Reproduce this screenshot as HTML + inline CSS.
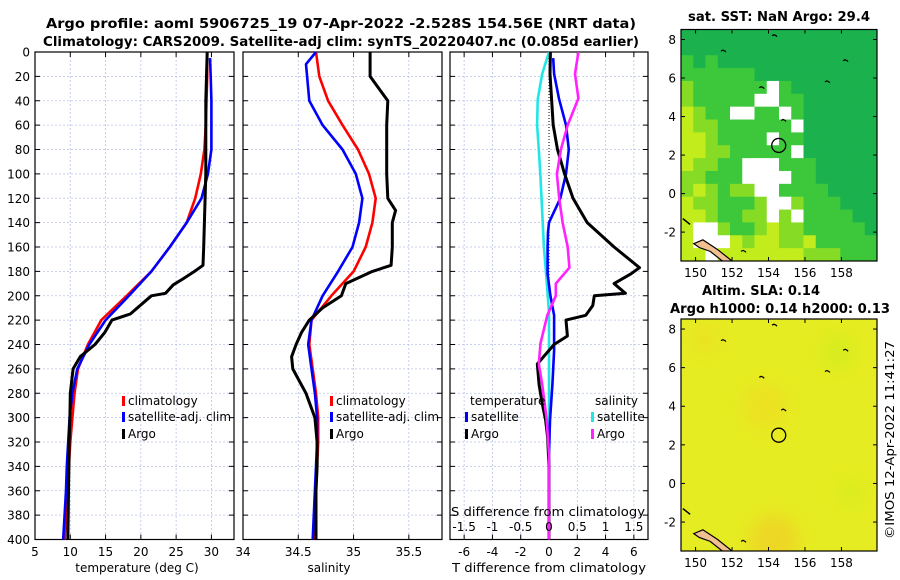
<!DOCTYPE html>
<html><head><meta charset="utf-8"><style>
html,body{margin:0;padding:0;background:#fff;}
svg{display:block;font-family:"DejaVu Sans","Liberation Sans",sans-serif;}
</style></head><body>
<svg id="fig" width="900" height="580" viewBox="0 0 900 580" xmlns="http://www.w3.org/2000/svg">
<text x="341" y="28" text-anchor="middle" font-size="13" font-weight="bold" textLength="590" lengthAdjust="spacingAndGlyphs">Argo profile: aoml 5906725_19 07-Apr-2022 -2.528S 154.56E (NRT data)</text>
<text x="341" y="46" text-anchor="middle" font-size="13" font-weight="bold" textLength="596" lengthAdjust="spacingAndGlyphs">Climatology: CARS2009. Satellite-adj clim: synTS_20220407.nc (0.085d earlier)</text>
<text x="779" y="21" text-anchor="middle" font-size="13" font-weight="bold" textLength="182" lengthAdjust="spacingAndGlyphs">sat. SST: NaN Argo: 29.4</text>
<text x="761" y="295" text-anchor="middle" font-size="13" font-weight="bold" textLength="118" lengthAdjust="spacingAndGlyphs">Altim. SLA: 0.14</text>
<text x="780" y="313" text-anchor="middle" font-size="13" font-weight="bold" textLength="220" lengthAdjust="spacingAndGlyphs">Argo h1000: 0.14 h2000: 0.13</text>
<text transform="translate(894,440) rotate(-90)" text-anchor="middle" font-size="12" textLength="198" lengthAdjust="spacingAndGlyphs">©IMOS 12-Apr-2022 11:41:27</text>
</svg>
<script>
// ---------- data ----------
const depths = [0,20,40,60,80,100,120,140,160,180,200,220,240,260,280,300,320,340,360,380,400];
const tempClim = [29.4,29.4,29.3,29.2,29.0,28.5,27.7,26.5,24.1,21.5,18.0,14.4,12.5,11.1,10.6,10.3,10.0,9.8,9.6,9.4,9.2];
const tempSat  = [29.8,29.9,30.0,30.0,30.0,29.5,28.6,26.5,24.1,21.5,18.3,15.0,12.7,11.0,10.3,9.9,9.7,9.5,9.4,9.2,9.0];
const argoTDepth = [0,20,40,60,80,100,120,140,160,175,180,186,191,198,200,205,215,220,230,240,250,260,280,300,320,340,360,380,400];
const argoTemp   = [29.4,29.3,29.2,29.2,29.2,29.2,29.1,29.0,28.9,28.8,27.6,26.0,24.6,23.5,21.5,20.5,18.5,15.9,14.9,13.5,11.4,10.4,10.0,9.95,9.85,9.8,9.75,9.7,9.65];
const salClim = [34.66,34.69,34.77,34.9,35.04,35.14,35.2,35.17,35.11,35.0,34.8,34.62,34.6,34.63,34.66,34.68,34.68,34.67,34.66,34.65,34.64];
const salSat  = [34.66,34.57,34.6,34.72,34.9,35.02,35.08,35.05,34.99,34.86,34.72,34.62,34.59,34.62,34.65,34.67,34.67,34.66,34.65,34.64,34.63];
const argoSDepth = [0,20,40,60,80,100,120,130,140,160,175,180,190,200,210,220,230,240,250,260,270,280,300,320,340,360,380,400];
const argoSal    = [35.15,35.15,35.31,35.3,35.3,35.3,35.31,35.38,35.35,35.35,35.34,35.17,34.93,34.89,34.72,34.6,34.53,34.48,34.44,34.45,34.51,34.57,34.65,34.67,34.67,34.66,34.66,34.66];
const dTArgoDepth = [0,18,60,80,100,120,140,160,177,182,190,198,200,208,216,220,233,240,256,273,287,302,316,340,400];
const dTArgo      = [0.1,0.07,0.3,0.6,1.1,1.7,2.7,4.6,6.4,5.8,4.6,5.4,3.2,3.1,2.6,1.2,1.3,0.36,-0.83,-0.7,-0.5,-0.24,-0.1,0,0];
const dTSatDepth = [5,18,38,60,80,100,120,140,148,160,182,200,216,245,273,302,330,400];
const dTSat      = [0.3,0.36,0.7,1.2,1.4,1.2,0.8,0,-0.07,-0.1,-0.1,0.1,0.36,0.36,0.24,0.07,0,0];
const dSSatDepth = [0,18,39,60,80,103,131,160,188,214,245,300,400];
const dSSat      = [0,-0.12,-0.2,-0.21,-0.18,-0.15,-0.12,-0.09,-0.04,0,0,0,0];
const dSArgoDepth = [0,18,38,60,80,100,120,140,160,177,190,200,216,239,256,273,287,302,330,400];
const dSArgo      = [0.52,0.46,0.52,0.33,0.21,0.14,0.18,0.24,0.33,0.36,0.12,0.12,-0.03,-0.15,-0.18,-0.12,-0.08,-0.04,0,0];
const depthTicks = [0,20,40,60,80,100,120,140,160,180,200,220,240,260,280,300,320,340,360,380,400];
const tempTicks = [5,10,15,20,25,30];
const salTicks = [34,34.5,35,35.5];
const dTTicks = [-6,-4,-2,0,2,4,6];
const dSTicks = [-1.5,-1,-0.5,0,0.5,1,1.5];
const lonTicks = [150,152,154,156,158];
const latTicks = [-2,0,2,4,6,8];
// SST map cells (rows north->south), codes: D dark green, G green, L lime, Y yellow-green, W missing
const sstRows = [
 "DDDDDDDDDDDDDDDD","DDDDDDDDDDDDDDDD","GDGDDDDDDDDDDDDD","GGGGGGDDDDDDDDDD",
 "LGGGGGGWGDDDDDDD","LGGGGGWWGGDDDDDD","YLGGWWGGWGDDDDDD","YLLGGGGGGWDDDDDD",
 "YYLGGGGWGGDDDDDD","YYLLGGGGGWDDDDDD","YLLGGWWWGGGDDDDD","LLGGGWWWWGGDDDDD",
 "LYLGLLWWGGGGDDDD","YLLGGGLWWLGGGDDD","YYLGGLLWLWGGGGDD","YWWLGGLYLLGGGGGD",
 "YWWWYLYYLLYGGGGG","YYWYYYYYYYLLLGGG"];
const sstColors = {D:"#1bb24e",G:"#3cc83a",L:"#86dc24",Y:"#c2ec1c",W:"#ffffff"};
// SLA patches: lon, lat, radius(deg), colour
const slaLon = [153.8,154.3,157.8,150.5,158.5];
const slaLat = [4,-3,6.8,7.5,-0.5];
const slaR   = [1.2,1.4,1.0,0.8,0.8];
const slaCol = ["#eedd22","#f0cf28","#d2ec1c","#ecdf22","#d6ec1c"];

// ---------- helpers ----------
const svg = document.getElementById('fig');
const NS = "http://www.w3.org/2000/svg";
function mk(tag, attrs, parent){const e=document.createElementNS(NS,tag);for(const k in attrs)e.setAttribute(k,attrs[k]);(parent||svg).appendChild(e);return e;}
const Y0=52, Y1=539.5;
const yD = d => Y0 + d*(Y1-Y0)/400;
const sx = (x0,x1,v0,v1) => v => x0 + (v-v0)*(x1-x0)/(v1-v0);
const P1 = {x0:35,x1:234}, P2={x0:243,x1:442}, P3={x0:450,x1:648};
const xT = sx(P1.x0,P1.x1,5,33.2);
const xS = sx(P2.x0,P2.x1,34,35.8);
const xdT = sx(P3.x0,P3.x1,-7,7);
const xdS = v => xdT(v*4);

function panel(P, name, gridXs){
  const g = mk('g',{});
  
  
  depthTicks.forEach(d=>{ if(d>0&&d<400){
    const l=mk('line',{x1:P.x0,x2:P.x1,y1:yD(d),y2:yD(d),stroke:"#b8c2e6","stroke-width":0.8,"stroke-dasharray":"2,2"},g);
    
    
  }});
  gridXs.forEach(x=>{
    const l=mk('line',{x1:x,x2:x,y1:Y0,y2:Y1,stroke:"#b8c2e6","stroke-width":0.8,"stroke-dasharray":"2,2"},g);
    
    
  });
  depthTicks.forEach(d=>{
    mk('line',{x1:P.x0,x2:P.x0+5,y1:yD(d),y2:yD(d),stroke:"#000"},g);
    mk('line',{x1:P.x1,x2:P.x1-5,y1:yD(d),y2:yD(d),stroke:"#000"},g);
  });
  gridXs.forEach(x=>{
    mk('line',{x1:x,x2:x,y1:Y1,y2:Y1-5,stroke:"#000"},g);
    mk('line',{x1:x,x2:x,y1:Y0,y2:Y0+5,stroke:"#000"},g);
  });
  const r=mk('rect',{x:P.x0,y:Y0,width:P.x1-P.x0,height:Y1-Y0,fill:"none",stroke:"#000","stroke-width":1.2},g);
  
  
  return g;
}
function line(xs, ds, xf, color, name, w){
  const pts = xs.map((v,i)=>xf(v).toFixed(1)+","+yD(ds[i]).toFixed(1)).join(" ");
  const p = mk('polyline',{points:pts,fill:"none",stroke:color,"stroke-width":w||2.6,"stroke-linejoin":"round"});
  
  
  return p;
}
function txt(x,y,s,opts,name){
  const t = mk('text',Object.assign({x:x,y:y,"font-size":12},opts||{}));
  t.textContent = s;
  
  
  return t;
}
function legend(x,y,color,label,name){
  mk('rect',{x:x,y:y-9,width:3,height:10,fill:color});
  txt(x+6,y,label,{},name);
}

// ---------- panel 1: temperature ----------
panel(P1,'temperature-panel',tempTicks.filter(t=>t>5).map(xT));
depthTicks.forEach(d=>txt(30,yD(d)+4.5,String(d),{"text-anchor":"end"},'depth-tick-label'));
tempTicks.forEach(t=>txt(xT(t),556,String(t),{"text-anchor":"middle"},'temp-tick-label'));
txt(137,572,"temperature (deg C)",{"text-anchor":"middle"},'temp-axis-title');
line(tempClim,depths,xT,"#ff0000",'temp-climatology-line');
line(tempSat.slice(0),[5].concat(depths.slice(1)),xT,"#0000ff",'temp-satellite-line');
line(argoTemp,argoTDepth,xT,"#000",'temp-argo-line',3);
legend(122,405,"#ff0000","climatology",'legend-climatology');
legend(122,421,"#0000ff","satellite-adj. clim",'legend-satellite');
legend(122,438,"#000","Argo",'legend-argo');

// ---------- panel 2: salinity ----------
panel(P2,'salinity-panel',salTicks.filter(t=>t>34).map(xS));
salTicks.forEach(t=>txt(xS(t),556,String(t),{"text-anchor":"middle"},'sal-tick-label'));
txt(329,572,"salinity",{"text-anchor":"middle"},'sal-axis-title');
line(salClim,depths,xS,"#ff0000",'sal-climatology-line');
line(salSat,[0,10].concat(depths.slice(2)),xS,"#0000ff",'sal-satellite-line');
line(argoSal,argoSDepth,xS,"#000",'sal-argo-line',3);
legend(330,405,"#ff0000","climatology",'legend-climatology-2');
legend(330,421,"#0000ff","satellite-adj. clim",'legend-satellite-2');
legend(330,438,"#000","Argo",'legend-argo-2');

// ---------- panel 3: differences ----------
const clip = mk('clipPath',{id:"p3clip"});
mk('rect',{x:P3.x0,y:Y0,width:P3.x1-P3.x0,height:Y1-Y0},clip);
const p3=panel(P3,'difference-panel',dTTicks.filter(t=>t!==0).map(xdT));
const zl=mk('line',{x1:xdT(0),x2:xdT(0),y1:Y0,y2:yD(190),stroke:"#000","stroke-width":1,"stroke-dasharray":"1,2"});


line(dSSat,dSSatDepth,xdS,"#22e6e6",'sal-diff-satellite-line').setAttribute('clip-path','url(#p3clip)');
line(dTSat,dTSatDepth,xdT,"#0000ff",'temp-diff-satellite-line').setAttribute('clip-path','url(#p3clip)');
line(dTArgo,dTArgoDepth,xdT,"#000",'temp-diff-argo-line',3).setAttribute('clip-path','url(#p3clip)');
line(dSArgo,dSArgoDepth,xdS,"#ff22ff",'sal-diff-argo-line').setAttribute('clip-path','url(#p3clip)');
dTTicks.forEach(t=>txt(xdT(t),556,String(t),{"text-anchor":"middle"},'dT-tick-label'));
txt(549,572,"T difference from climatology",{"text-anchor":"middle","textLength":194,"lengthAdjust":"spacingAndGlyphs"},'dT-axis-title');
dSTicks.forEach(t=>txt(xdS(t),531,String(t),{"text-anchor":"middle"},'dS-tick-label'));
txt(548,516,"S difference from climatology",{"text-anchor":"middle","textLength":194,"lengthAdjust":"spacingAndGlyphs"},'dS-axis-title');
txt(470,405,"temperature",{},'legend-temperature-heading');
txt(595,405,"salinity",{},'legend-salinity-heading');
legend(465,421,"#0000ff","satellite",'legend-temp-satellite');
legend(465,438,"#000","Argo",'legend-temp-argo');
legend(591,421,"#22e6e6","satellite",'legend-sal-satellite');
legend(591,438,"#ff22ff","Argo",'legend-sal-argo');

// ---------- maps ----------
const M = {x0:681,x1:877,lon0:149.2,lon1:159.95,lat0:-3.5,lat1:8.52};
function map(top,bot,name,drawFill){
  const g=mk('g',{});
  
  
  const lx=sx(M.x0,M.x1,M.lon0,M.lon1), ly=sx(bot,top,M.lat0,M.lat1);
  const cid=name+"-clip";
  const cp=mk('clipPath',{id:cid},g); mk('rect',{x:M.x0,y:top,width:M.x1-M.x0,height:bot-top},cp);
  const inner=mk('g',{'clip-path':`url(#${cid})`},g);
  drawFill(inner,lx,ly);
  const isl=mk('path',{d:`M${lx(149.9)},${ly(-2.6)} L${lx(150.4)},${ly(-2.4)} L${lx(151.2)},${ly(-2.9)} L${lx(152)},${ly(-3.5)} L${lx(151.6)},${ly(-3.6)} L${lx(150.8)},${ly(-3.0)} L${lx(150.2)},${ly(-2.8)} Z`,fill:"#f2c090",stroke:"#000","stroke-width":1.2},inner);
  
  
  mk('path',{d:`M${lx(149.3)},${ly(-1.3)} L${lx(149.7)},${ly(-1.6)}`,stroke:"#000","stroke-width":1.5},inner);
  [[151.5,7.4],[158.2,6.9],[153.6,5.5],[154.3,8.2],[157.2,5.8],[154.8,3.8],[152.6,-3.0]].forEach(p=>{
    mk('path',{d:`M${lx(p[0])-2},${ly(p[1])} l2,-1 l2,1 l1,1`,fill:"none",stroke:"#000","stroke-width":1.2},inner);
  });
  const c=mk('circle',{cx:lx(154.56),cy:ly(2.5),r:7,fill:"none",stroke:"#000","stroke-width":1.3},g);
  
  
  const fr=mk('rect',{x:M.x0,y:top,width:M.x1-M.x0,height:bot-top,fill:"none",stroke:"#000","stroke-width":1.2},g);
  
  
  lonTicks.forEach(l=>{
    mk('line',{x1:lx(l),x2:lx(l),y1:bot,y2:bot-4,stroke:"#000"},g);
    mk('line',{x1:lx(l),x2:lx(l),y1:top,y2:top+4,stroke:"#000"},g);
    txt(lx(l),bot+16,String(l),{"text-anchor":"middle"},'lon-tick-label');
  });
  latTicks.forEach(l=>{
    mk('line',{x1:M.x0,x2:M.x0+4,y1:ly(l),y2:ly(l),stroke:"#000"},g);
    mk('line',{x1:M.x1,x2:M.x1-4,y1:ly(l),y2:ly(l),stroke:"#000"},g);
    txt(M.x0-5,ly(l)+4.5,String(l),{"text-anchor":"end"},'lat-tick-label');
  });
}
map(29.5,261,'sst-map',(g,lx,ly)=>{
  const nR=sstRows.length,nC=sstRows[0].length;
  const cw=(M.x1-M.x0)/nC, ch=(261-29.5)/nR;
  sstRows.forEach((row,r)=>{row.split("").forEach((c,k)=>{
    const cell=mk('rect',{x:M.x0+k*cw,y:29.5+r*ch,width:cw+0.5,height:ch+0.5,fill:sstColors[c]},g);
    
    
  });});
});
map(319,551,'sla-map',(g,lx,ly)=>{
  const defs=mk('defs',{},g);
  const f=mk('filter',{id:"blur1",x:"-50%",y:"-50%",width:"200%",height:"200%"},defs);
  mk('feGaussianBlur',{stdDeviation:8},f);
  mk('rect',{x:M.x0,y:319,width:M.x1-M.x0,height:232,fill:"#e6ec22"},g);
  slaLon.forEach((lo,i)=>{
    const e=mk('ellipse',{cx:lx(lo),cy:ly(slaLat[i]),rx:slaR[i]*18,ry:slaR[i]*19,fill:slaCol[i],opacity:0.7,filter:"url(#blur1)"},g);
    
    
  });
});
</script>
</body></html>
